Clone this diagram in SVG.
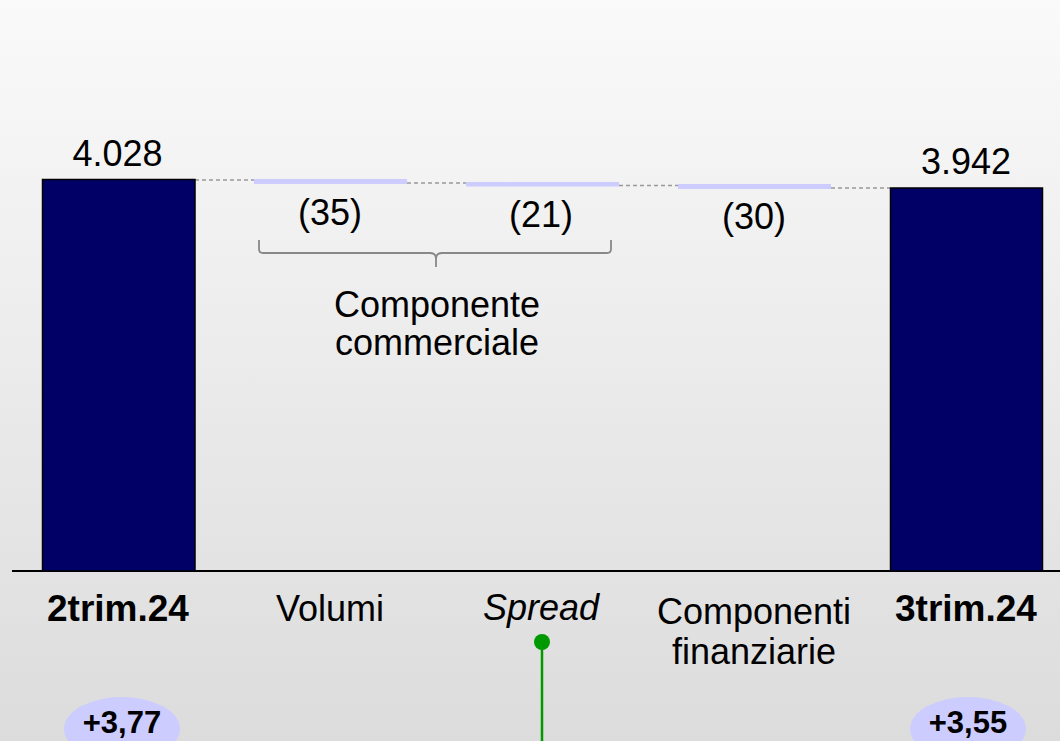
<svg xmlns="http://www.w3.org/2000/svg" width="1060" height="741" viewBox="0 0 1060 741">
  <defs>
    <linearGradient id="bg" x1="0" y1="0" x2="0" y2="1">
      <stop offset="0" stop-color="#fafafa"/>
      <stop offset="1" stop-color="#dcdcdc"/>
    </linearGradient>
    <style>
      text { font-family: "Liberation Sans", Arial, sans-serif; fill: #000; text-anchor: middle; }
      .v { font-size: 36px; }
      .b { font-size: 37px; font-weight: bold; }
      .i { font-size: 36px; font-style: italic; }
      .p { font-size: 31px; font-weight: bold; }
      .bar { fill: #000066; stroke: #000; stroke-width: 1.5; }
      .delta { fill: #ccccff; }
      .dash { stroke: #999; stroke-width: 1.3; stroke-dasharray: 4 3; fill: none; }
      .oval { fill: #ccccff; }
    </style>
  </defs>
  <rect x="0" y="0" width="1060" height="741" fill="url(#bg)"/>

  <g id="connectors">
    <line class="dash" x1="195" y1="180" x2="254" y2="180"/>
    <line class="dash" x1="407" y1="183" x2="466" y2="183"/>
    <line class="dash" x1="619" y1="185.5" x2="678" y2="185.5"/>
    <line class="dash" x1="831" y1="188" x2="890" y2="188"/>
    <path id="brace" d="M259,240 V249 Q259,253 263,253 H430 Q436,253 436,259 V267 M436,259 Q436,253 442,253 H607 Q611,253 611,249 V240" fill="none" stroke="#888" stroke-width="1.8"/>
    <line id="axis" x1="12" y1="571" x2="1060" y2="571" stroke="#000" stroke-width="2"/>
    <g id="pin">
      <line x1="542" y1="642" x2="542" y2="741" stroke="#009900" stroke-width="2.5"/>
      <circle cx="542" cy="642" r="8" fill="#009900"/>
    </g>
  </g>

  <g id="bar-2trim24">
    <rect class="bar" x="42.5" y="179.5" width="152.5" height="391.5"/>
    <text class="v" x="117.5" y="166">4.028</text>
    <text class="b" x="118" y="621">2trim.24</text>
  </g>

  <g id="bar-volumi">
    <rect class="delta" x="254" y="179" width="153" height="5"/>
    <text class="v" x="330" y="225">(35)</text>
    <text class="v" x="330" y="621">Volumi</text>
  </g>

  <g id="bar-spread">
    <rect class="delta" x="466" y="182" width="153" height="4.5"/>
    <text class="v" x="541" y="227">(21)</text>
    <text class="i" x="541" y="620">Spread</text>
  </g>

  <g id="label-componente-commerciale">
    <text class="v" x="437" y="317">Componente</text>
    <text class="v" x="437" y="355">commerciale</text>
  </g>

  <g id="bar-componenti-finanziarie">
    <rect class="delta" x="678" y="184" width="153" height="5"/>
    <text class="v" x="754" y="229">(30)</text>
    <text class="v" x="754" y="624">Componenti</text>
    <text class="v" x="754" y="664">finanziarie</text>
  </g>

  <g id="bar-3trim24">
    <rect class="bar" x="890.5" y="188" width="152" height="383"/>
    <text class="v" x="966" y="174">3.942</text>
    <text class="b" x="966" y="621">3trim.24</text>
  </g>

  <g id="oval-left">
    <ellipse class="oval" cx="122" cy="729" rx="58" ry="32"/>
    <text class="p" x="122" y="733">+3,77</text>
  </g>

  <g id="oval-right">
    <ellipse class="oval" cx="968" cy="729" rx="58" ry="32"/>
    <text class="p" x="968" y="733">+3,55</text>
  </g>
</svg>
